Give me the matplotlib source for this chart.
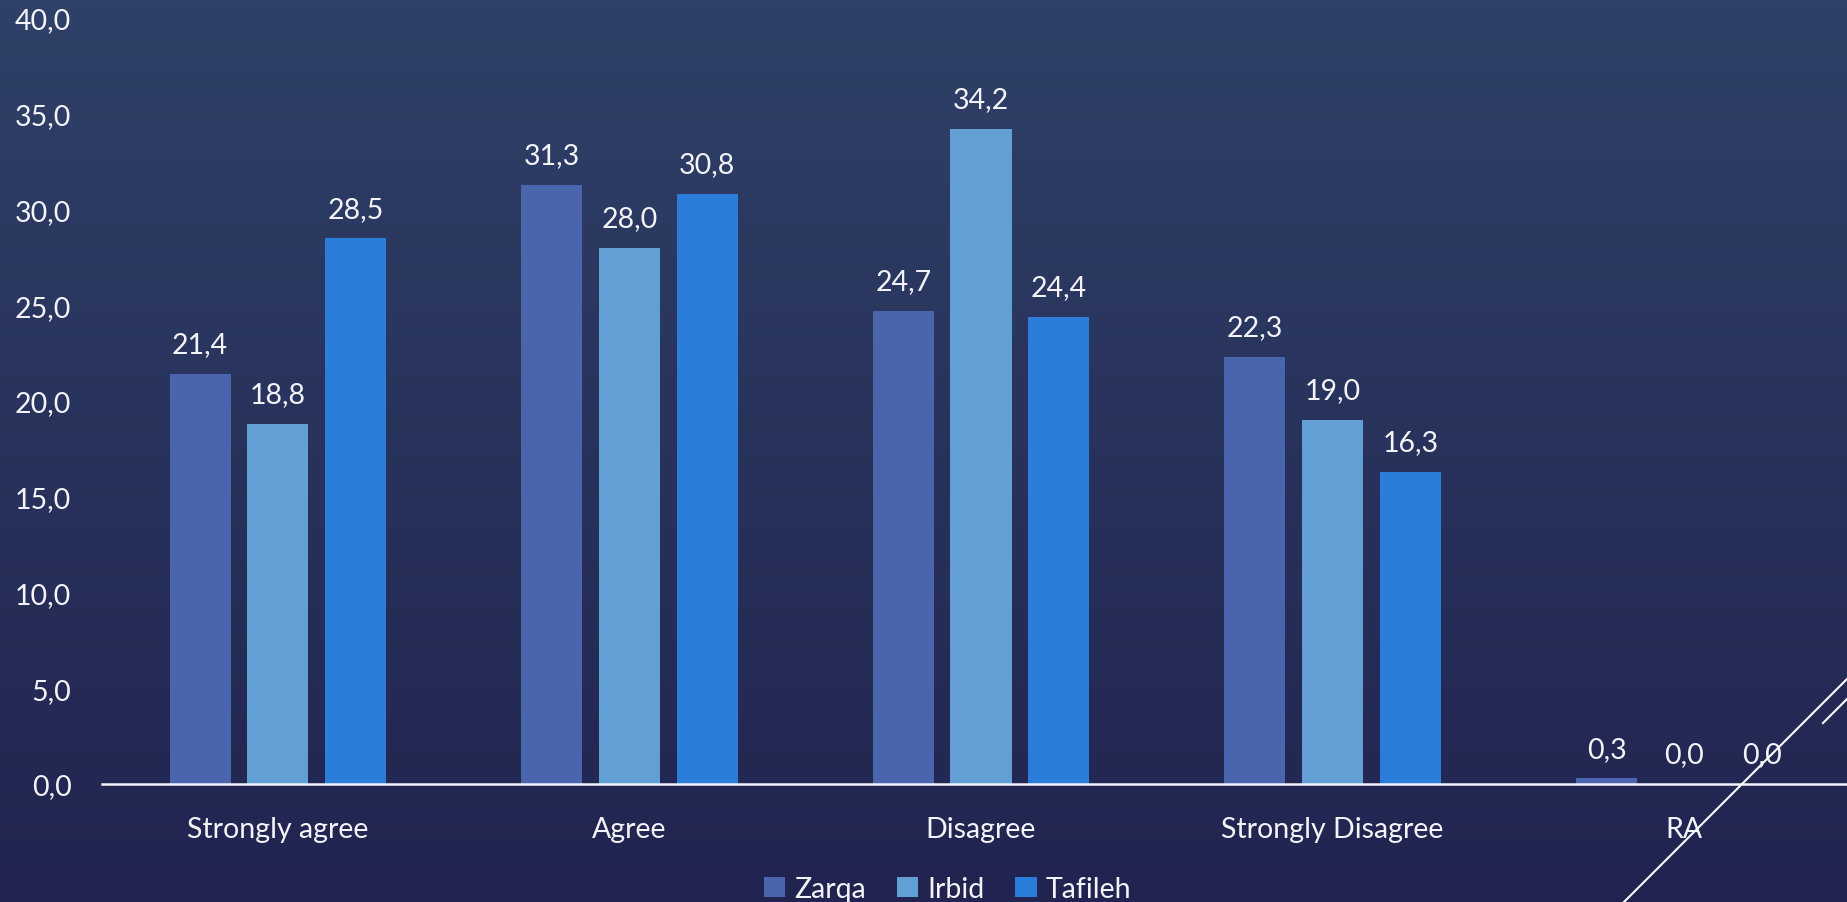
import numpy as np
import matplotlib
matplotlib.use('Agg')
import matplotlib.pyplot as plt
from matplotlib.colors import LinearSegmentedColormap
from matplotlib.lines import Line2D

categories = ['Strongly agree', 'Agree', 'Disagree', 'Strongly Disagree', 'RA']
series_names = ['Zarqa', 'Irbid', 'Tafileh']
zarqa = [21.4, 31.3, 24.7, 22.3, 0.3]
irbid = [18.8, 28.0, 34.2, 19.0, 0.0]
tafileh = [28.5, 30.8, 24.4, 16.3, 0.0]
yticks = [0, 5, 10, 15, 20, 25, 30, 35, 40]

colors = ['#4a65ae', '#619fd4', '#2a7dd8']
text_color = '#f4f4f8'

plt.rcParams['font.family'] = ['Lato', 'DejaVu Sans']
fs = 20.5

W, H = 1847, 903
fig = plt.figure(figsize=(W / 100, H / 100), dpi=100)

# background gradient, lighter at the top
bg = fig.add_axes([0, 0, 1, 1], zorder=0)
bg.axis('off')
cmap = LinearSegmentedColormap.from_list('bg', ['#2f4168', '#212450'])
grad = np.linspace(0, 1, 256).reshape(-1, 1)
bg.imshow(grad, aspect='auto', cmap=cmap, extent=[0, 1, 0, 1], origin='upper')

ax_left = 102 / W
ax_bottom = (H - 785) / H
ax_top = (H - 19) / H
ax = fig.add_axes([ax_left, ax_bottom, 1 - ax_left, ax_top - ax_bottom], zorder=1)
ax.patch.set_alpha(0)

x = np.arange(len(categories))
width = 0.174
offset = 0.221
for i, (vals, name) in enumerate(zip([zarqa, irbid, tafileh], series_names)):
    pos = x + (i - 1) * offset
    ax.bar(pos, vals, width, color=colors[i], label=name, zorder=2)
    for xp, v in zip(pos, vals):
        ax.annotate(('%.1f' % v).replace('.', ','), (xp, v), xytext=(0, 12),
                    textcoords='offset points', ha='center', va='bottom',
                    color=text_color, fontsize=fs)

ax.set_xlim(-0.5, 4.463)
ax.set_ylim(0, 40)
for s in ['left', 'top', 'right']:
    ax.spines[s].set_visible(False)
ax.spines['bottom'].set_color(text_color)
ax.spines['bottom'].set_linewidth(1.8)
ax.spines['bottom'].set_zorder(3)

ax.set_xticks(x)
ax.set_xticklabels(categories, color=text_color, fontsize=fs)
ax.set_yticks(yticks)
ax.set_yticklabels([('%.1f' % t).replace('.', ',') for t in yticks], color=text_color, fontsize=fs)
ax.tick_params(axis='both', length=0)
ax.tick_params(axis='x', pad=23)
ax.tick_params(axis='y', pad=22)

fig.legend(loc='center', bbox_to_anchor=(0.513, 1 - 890 / H), ncol=3, frameon=False,
           fontsize=fs, labelcolor=text_color, handlelength=0.75, handleheight=0.75,
           handletextpad=0.3, columnspacing=1.1)

# decorative diagonal lines
fig.add_artist(Line2D([1624 / W, 1.0], [0, 1 - 680 / H], color='white', lw=1.5, zorder=5))
fig.add_artist(Line2D([1823 / W, 1.0], [1 - 724 / H, 1 - 700 / H], color='white', lw=1.5, zorder=5))

fig.savefig('out.png', dpi=100)
